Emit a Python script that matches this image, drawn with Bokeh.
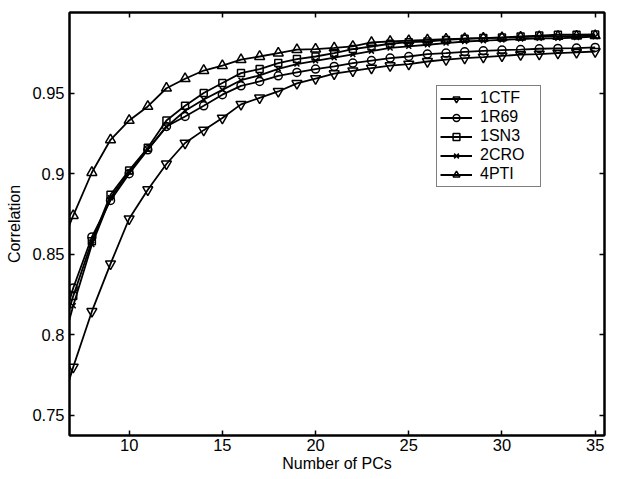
from bokeh.plotting import figure
from bokeh.models import LinearAxis, FixedTicker, CustomJSTickFormatter, Range1d
from bokeh.embed import file_html
from bokeh.resources import INLINE

# ---- data ----
pcs = list(range(6, 36))
ctf_1 = [0.742, 0.780, 0.8145, 0.844, 0.872, 0.890, 0.906, 0.919, 0.927, 0.9345,
         0.943, 0.947, 0.951, 0.956, 0.959, 0.962, 0.9638, 0.9655, 0.967, 0.968,
         0.9696, 0.9707, 0.9717, 0.9723, 0.9731, 0.9738, 0.9742, 0.9748, 0.9752, 0.9758]
r69_1 = [0.790, 0.829, 0.8607, 0.8834, 0.900, 0.9148, 0.9293, 0.9355, 0.9421, 0.949,
         0.9545, 0.9572, 0.9607, 0.9628, 0.9649, 0.9665, 0.9686, 0.9702, 0.9717, 0.9727,
         0.9742, 0.9748, 0.9756, 0.9762, 0.9767, 0.977, 0.9775, 0.9777, 0.9779, 0.9783]
sn3_1 = [0.785, 0.824, 0.858, 0.8869, 0.902, 0.916, 0.933, 0.9421, 0.950, 0.9562,
         0.9624, 0.9649, 0.9686, 0.9711, 0.9727, 0.9748, 0.9773, 0.9789, 0.9806, 0.9816,
         0.982, 0.983, 0.9837, 0.9841, 0.9845, 0.9851, 0.9857, 0.9862, 0.9862, 0.9864]
cro_2 = [0.776, 0.818, 0.856, 0.885, 0.901, 0.915, 0.929, 0.939, 0.946, 0.952,
         0.958, 0.961, 0.965, 0.968, 0.970, 0.972, 0.974, 0.976, 0.978, 0.979,
         0.980, 0.981, 0.982, 0.9825, 0.983, 0.9835, 0.984, 0.984, 0.9845, 0.985]
pti_4 = [0.845, 0.874, 0.9007, 0.921, 0.933, 0.9417, 0.953, 0.9589, 0.964, 0.967,
         0.9707, 0.9727, 0.9748, 0.9769, 0.9773, 0.978, 0.979, 0.9814, 0.982, 0.9826,
         0.983, 0.9834, 0.9838, 0.9841, 0.9844, 0.9847, 0.985, 0.9852, 0.9854, 0.9856]

series = [
    ("1CTF", ctf_1, "inverted_triangle", 10),
    ("1R69", r69_1, "circle", 8),
    ("1SN3", sn3_1, "square", 7),
    ("2CRO", cro_2, "x", 7),
    ("4PTI", pti_4, "triangle", 10),
]

x_ticks = [10, 15, 20, 25, 30, 35]
y_ticks = [0.75, 0.80, 0.85, 0.90, 0.95]

FONT = "Liberation Sans"

p = figure(frame_width=535, frame_height=423,
           x_range=Range1d(6.8, 35.5), y_range=Range1d(0.7375, 1.0),
           output_backend="svg", toolbar_location=None,
           min_border_left=69, min_border_top=12, min_border_right=4, min_border_bottom=30,
           background_fill_color="white", border_fill_color="white")

p.xgrid.visible = False
p.ygrid.visible = False
p.outline_line_color = "black"
p.outline_line_width = 2

for name, ys, marker, size in series:
    p.line(pcs, ys, line_color="black", line_width=1.8, legend_label=name)
    p.scatter(pcs, ys, marker=marker, size=size, line_color="black", line_width=1.5,
              fill_color="white", fill_alpha=0.0, legend_label=name)

fmt = CustomJSTickFormatter(code="return Number(tick.toFixed(2)).toString();")

def style(ax, ticks):
    ax.ticker = FixedTicker(ticks=ticks)
    ax.axis_line_width = 2
    ax.axis_line_color = "black"
    ax.major_tick_in = 5
    ax.major_tick_out = 0
    ax.major_tick_line_width = 1.5
    ax.minor_tick_line_color = None
    ax.major_label_text_font = FONT
    ax.major_label_text_font_size = "16.5px"
    ax.major_label_text_color = "black"
    ax.axis_label_text_font = FONT
    ax.axis_label_text_font_size = "16px"
    ax.axis_label_text_font_style = "normal"
    ax.axis_label_text_color = "black"

style(p.xaxis[0], x_ticks)
style(p.yaxis[0], y_ticks)
p.xaxis[0].formatter = fmt
p.yaxis[0].formatter = fmt
p.xaxis[0].axis_label = "Number of PCs"
p.yaxis[0].axis_label = "Correlation"
p.xaxis[0].major_label_standoff = 3
p.xaxis[0].axis_label_standoff = 1
p.yaxis[0].major_label_standoff = 5
p.yaxis[0].axis_label_standoff = 6

blank = CustomJSTickFormatter(code="return '';")
top = LinearAxis(formatter=blank)
right = LinearAxis(formatter=blank)
style(top, x_ticks)
style(right, y_ticks)
for ax in (top, right):
    ax.major_label_standoff = 0
p.add_layout(top, "above")
p.add_layout(right, "right")

lg = p.legend[0]
lg.location = (367, 248)
lg.border_line_color = "black"
lg.border_line_width = 1
lg.background_fill_color = "white"
lg.background_fill_alpha = 1.0
lg.label_text_font = FONT
lg.label_text_font_size = "16px"
lg.label_text_color = "black"
lg.glyph_width = 32
lg.glyph_height = 17
lg.label_height = 17
lg.label_width = 57
lg.spacing = 1
lg.padding = 3
lg.margin = 0
lg.label_standoff = 8

open("out.html", "w").write(file_html(p, INLINE))
